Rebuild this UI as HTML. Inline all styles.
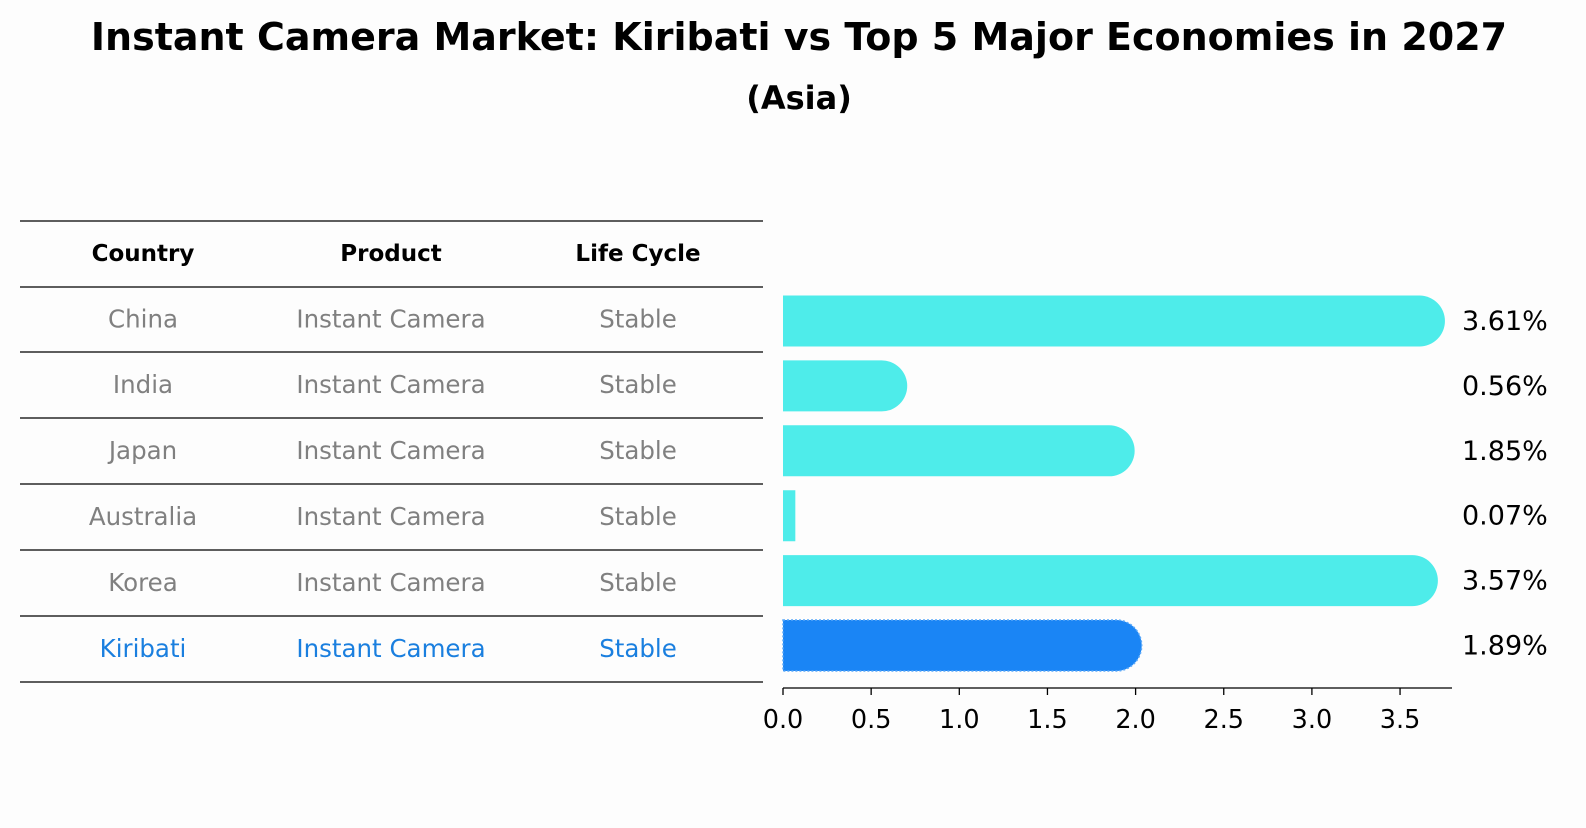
<!DOCTYPE html>
<html><head><meta charset="utf-8"><style>
body{margin:0;background:#fdfdfd;font-family:"Liberation Sans","DejaVu Sans",sans-serif;}
svg text{font-family:"DejaVu Sans","Liberation Sans",sans-serif;}
</style></head><body>
<svg id="chart" width="1586" height="823" viewBox="0 0 1586 823">
<rect width="1586" height="823" fill="#fdfdfd"/>
<text x="799" y="50" text-anchor="middle" font-size="38" font-weight="bold" fill="#000">Instant Camera Market: Kiribati vs Top 5 Major Economies in 2027</text>
<text x="799" y="109" text-anchor="middle" font-size="32" font-weight="bold" fill="#000">(Asia)</text>
<g id="table"></g>
<g id="bars"></g>
</svg>
<script>
const countries=["China","India","Japan","Australia","Korea","Kiribati"];
const products=["Instant Camera","Instant Camera","Instant Camera","Instant Camera","Instant Camera","Instant Camera"];
const stages=["Stable","Stable","Stable","Stable","Stable","Stable"];
const values=[3.61,0.56,1.85,0.07,3.57,1.89];
const ticks=[0,0.5,1,1.5,2,2.5,3,3.5];
const NS="http://www.w3.org/2000/svg";
function mk(tag,attrs,parent){const e=document.createElementNS(NS,tag);for(const k in attrs)e.setAttribute(k,attrs[k]);parent.appendChild(e);return e;}
const x0=783,scale=176.3;
const xs=v=>x0+v*scale;
const rowY=i=>321+i*64.9;
const table=document.getElementById('table'),bars=document.getElementById('bars');
const lineYs=[221,287];
for(let i=0;i<countries.length;i++)lineYs.push(Math.round(352+i*65.9));
lineYs.forEach((y,i)=>{const l=mk('line',{x1:20,x2:763,y1:y,y2:y,stroke:'#000','stroke-width':1.2},table);

});
const colX=[143,391,638];
["Country","Product","Life Cycle"].forEach((h,j)=>{const t=mk('text',{x:colX[j],y:261,'text-anchor':'middle','font-size':23,'font-weight':'bold',fill:'#000'},table);t.textContent=h;

});
countries.forEach((c,i)=>{const y=(lineYs[i+1]+lineYs[i+2])/2+8;const col=c==="Kiribati"?'#1a7fdf':'#808080';
[c,products[i],stages[i]].forEach((v,j)=>{const t=mk('text',{x:colX[j],y:y,'text-anchor':'middle','font-size':24.5,fill:col},table);t.textContent=v;

});});
const h=51,r=h/2;
values.forEach((v,i)=>{const cy=rowY(i);const w=xs(v)-x0;const hl=countries[i]==="Kiribati";const fill=hl?'#1a85f5':'#4eecea';
let d;
if(w>r){d=`M${x0},${cy-r} H${x0+w} A${r},${r} 0 0 1 ${x0+w},${cy+r} H${x0} Z`;}
else{d=`M${x0},${cy-r} H${x0+w} V${cy+r} H${x0} Z`;}
const p=mk('path',{d:d,fill:fill},bars);
if(hl){p.setAttribute('stroke','#5aa8f8');p.setAttribute('stroke-dasharray','2,2');p.setAttribute('stroke-width','1.5');}


const t=mk('text',{x:1462,y:cy+9,'font-size':27,fill:'#000'},bars);t.textContent=v.toFixed(2)+'%';

});
const ax=mk('line',{x1:x0,x2:1452,y1:688,y2:688,stroke:'#000','stroke-width':1.3},bars);


ticks.forEach(tv=>{const x=xs(tv);const tl=mk('line',{x1:x,x2:x,y1:688,y2:695,stroke:'#000','stroke-width':1.3},bars);


const t=mk('text',{x:x,y:728,'text-anchor':'middle','font-size':25.5,fill:'#000'},bars);t.textContent=tv.toFixed(1);

});
</script>
</body></html>
